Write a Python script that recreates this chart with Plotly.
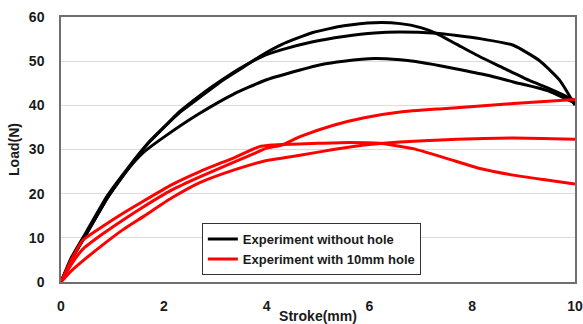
import plotly.graph_objects as go

# Black curves: experiment without hole (three specimens)
bA_x = [0, 0.2, 0.5, 0.9, 1.3, 1.7, 2.0, 2.3, 2.7, 3.1, 3.5, 3.9, 4.3, 4.9, 5.5, 6.1, 6.6, 7.0, 7.3, 7.7, 8.15, 8.6, 9.1, 9.5, 9.8, 10]
bA_y = [0, 5, 11, 19, 25.5, 31.5, 35, 38.3, 41.8, 45.3, 48.3, 51.3, 53.8, 56.5, 58, 58.7, 58.5, 57.6, 56.3, 53.8, 51, 48.5, 45.7, 43.8, 42.2, 41]
bB_x = [0, 0.2, 0.5, 0.9, 1.3, 1.7, 2.0, 2.3, 2.7, 3.1, 3.5, 3.9, 4.3, 4.9, 5.5, 6.1, 6.6, 7.3, 7.7, 8.15, 8.8, 9.3, 9.7, 10]
bB_y = [0, 5.5, 11.5, 19.5, 25.8, 31.5, 35, 38.5, 42.2, 45.5, 48.5, 51, 52.6, 54.4, 55.6, 56.4, 56.6, 56.3, 55.8, 55.1, 53.6, 50.2, 45.7, 40]
bC_x = [0, 0.2, 0.5, 0.9, 1.3, 1.6, 2.05, 2.7, 3.35, 4.0, 4.65, 5.05, 5.5, 6.1, 6.6, 6.9, 7.4, 7.8, 8.3, 8.8, 9.45, 10]
bC_y = [0, 5, 11, 19, 25.5, 29.3, 33.2, 38.2, 42.5, 45.8, 48, 49.2, 50, 50.6, 50.3, 49.9, 48.9, 48, 46.8, 45.3, 43.4, 40.5]

# Red curves: experiment with 10mm hole (three specimens)
r1_x = [0, 0.2, 0.43, 0.8, 1.2, 1.6, 2.15, 2.7, 3.4, 3.8, 4.0, 4.3, 4.65, 5.3, 5.9, 6.6, 7.5, 8.8, 10]
r1_y = [0, 4, 7.5, 10.8, 14, 17, 20.8, 23.8, 27.3, 29.3, 30.3, 31, 32.9, 35.5, 37.2, 38.5, 39.3, 40.4, 41.3]
r2_x = [0, 0.2, 0.5, 0.8, 1.2, 1.6, 2.15, 2.7, 3.4, 4.0, 4.65, 5.3, 5.9, 6.6, 7.5, 8.8, 10]
r2_y = [0, 2.5, 5.5, 8.3, 11.8, 14.8, 19, 22.5, 25.5, 27.5, 28.7, 30, 31, 31.7, 32.2, 32.6, 32.3]
r3_x = [0, 0.2, 0.43, 0.8, 1.2, 1.6, 2.15, 2.7, 3.4, 3.85, 4.1, 4.5, 5.0, 5.6, 6.2, 6.85, 7.5, 8.15, 8.8, 9.45, 10]
r3_y = [0, 5, 9.5, 12.5, 15.5, 18.3, 22, 25, 28.3, 30.6, 31, 31.2, 31.4, 31.6, 31.4, 30.2, 28, 25.7, 24.2, 23.1, 22.2]

x_ticks = [0, 2, 4, 6, 8, 10]
y_ticks = [0, 10, 20, 30, 40, 50, 60]

FONT = "Liberation Sans, Arial, sans-serif"

fig = go.Figure()

black_sets = [(bA_x, bA_y), (bB_x, bB_y), (bC_x, bC_y)]
red_sets = [(r1_x, r1_y), (r2_x, r2_y), (r3_x, r3_y)]

for i, (xs, ys) in enumerate(black_sets):
    fig.add_trace(go.Scatter(x=xs, y=ys, mode="lines", line=dict(color="black", width=3, shape="spline", smoothing=0.5),
                             name="Experiment without hole", legendgroup="black", showlegend=(i == 0)))
for i, (xs, ys) in enumerate(red_sets):
    fig.add_trace(go.Scatter(x=xs, y=ys, mode="lines", line=dict(color="#ff0000", width=3, shape="spline", smoothing=0.5),
                             name="Experiment with 10mm hole", legendgroup="red", showlegend=(i == 0)))

fig.update_layout(
    width=583, height=324,
    margin=dict(l=61, r=8, t=17, b=42),
    paper_bgcolor="white", plot_bgcolor="white",
    font=dict(family=FONT, size=14, color="#1a1a1a"),
    showlegend=True,
    legend=dict(x=0.274, y=0.222, xanchor="left", yanchor="top",
                bgcolor="white", bordercolor="#333333", borderwidth=1,
                font=dict(family=FONT, size=13, color="#1a1a1a", weight="bold"),
                itemwidth=30, tracegroupgap=0),
)
fig.update_xaxes(range=[0, 10], tickvals=x_ticks, showgrid=False, zeroline=False, automargin=False,
                 showline=True, mirror=True, linecolor="#6f6f6f", linewidth=1.5,
                 tickfont=dict(family=FONT, size=14, weight="bold"), ticks="", ticklabelstandoff=10,
                 title=dict(text="Stroke(mm)", font=dict(family=FONT, size=14, weight="bold"), standoff=4))
fig.update_yaxes(range=[0, 60], tickvals=y_ticks, showgrid=True, gridcolor="#dcdcdc", gridwidth=1, zeroline=False,
                 automargin=False,
                 showline=True, mirror=True, linecolor="#6f6f6f", linewidth=1.5,
                 tickfont=dict(family=FONT, size=14, weight="bold"), ticks="", ticklabelstandoff=12,
                 title=dict(text="Load(N)", font=dict(family=FONT, size=14, weight="bold"), standoff=6))

fig.write_html("out.html")
